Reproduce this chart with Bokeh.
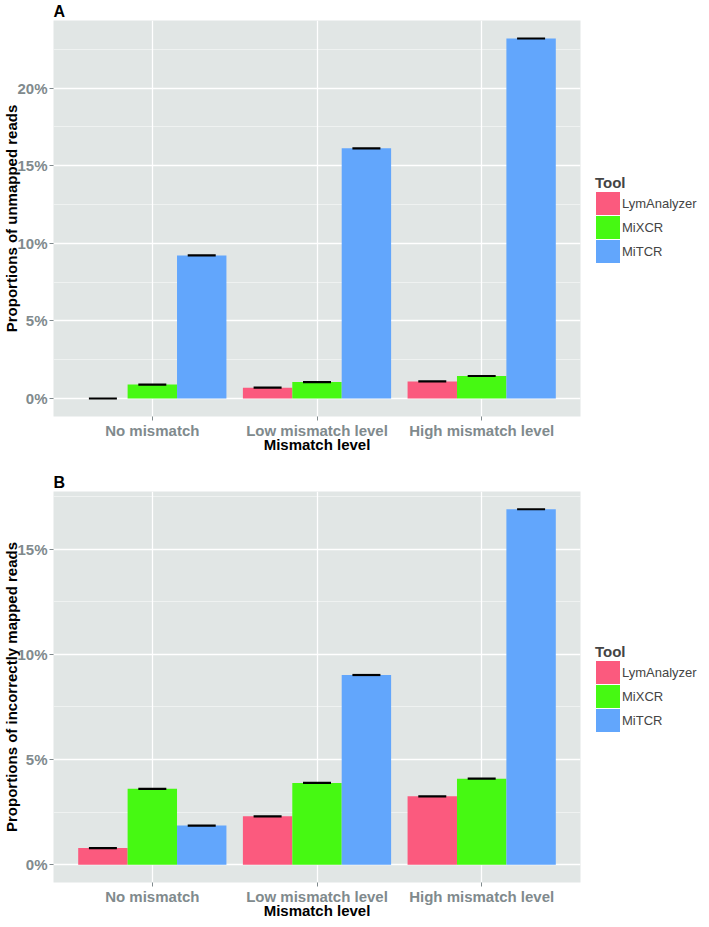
from bokeh.plotting import figure
from bokeh.models import (FixedTicker, Range1d, Legend, LegendItem, Title, ColumnDataSource)
from bokeh.layouts import column
from bokeh.embed import file_html
from bokeh.resources import INLINE

# ---- data ----
categories = ["No mismatch", "Low mismatch level", "High mismatch level"]
tools = ["LymAnalyzer", "MiXCR", "MiTCR"]

unmapped_lym = [0.0, 0.70, 1.10]
unmapped_mixcr = [0.90, 1.06, 1.45]
unmapped_mitcr = [9.22, 16.12, 23.20]

incorrect_lym = [0.79, 2.30, 3.25]
incorrect_mixcr = [3.61, 3.89, 4.09]
incorrect_mitcr = [1.86, 9.02, 16.90]

ticks_a = [0, 5, 10, 15, 20]
ticks_b = [0, 5, 10, 15]
tick_labels_a = ["0%", "5%", "10%", "15%", "20%"]
tick_labels_b = ["0%", "5%", "10%", "15%"]

colors = ["#FB5A7E", "#46F912", "#62A6FC"]

FONT = "Liberation Sans"
BG = "#E1E6E5"
TICK_GREY = "#808A8D"
FRAME_W = 527
LEGEND_H = 90


def make_panel(letter, ytitle, series, ticks, tick_labels, top_border, frame_h, bottom_border):
    allv = [v for s in series for v in s]
    vmax = max(allv)
    p = figure(frame_width=FRAME_W, frame_height=frame_h, output_backend="svg",
               toolbar_location=None, min_border_left=46, min_border_top=top_border,
               min_border_bottom=bottom_border, min_border_right=120,
               x_range=Range1d(0.4, len(categories) + 0.6),
               y_range=Range1d(-0.05 * vmax, 1.05 * vmax),
               background_fill_color=BG, border_fill_color="white")
    p.outline_line_color = None

    t = Title(text=letter, text_font=FONT, text_font_size="16px", text_font_style="bold",
              align="left", standoff=1, offset=0, text_color="black")
    p.add_layout(t, "above")

    n = len(categories)
    width = 0.3
    items = []
    for j, (vals, tool, col) in enumerate(zip(series, tools, colors)):
        xs = [i + 1 + (j - 1) * width for i in range(n)]
        src = ColumnDataSource(dict(x=xs, top=vals,
                                    x0=[x - 0.085 for x in xs], x1=[x + 0.085 for x in xs]))
        p.vbar(x="x", top="top", bottom=0, width=width, source=src,
               fill_color=col, line_color=None)
        p.segment(x0="x0", x1="x1", y0="top", y1="top", source=src,
                  line_color="black", line_width=2.2)
        # hidden twin of the bars, used only for a full-size legend swatch
        key = p.vbar(x="x", top="top", bottom=0, width=width, source=src,
                     fill_color=col, line_color=col, line_width=4,
                     line_join="miter", visible=False)
        items.append(LegendItem(label=tool, renderers=[key]))

    legend = Legend(items=items, title="Tool",
                    location=(15, (frame_h - LEGEND_H) // 2),
                    title_text_font=FONT, title_text_font_size="15px",
                    title_text_font_style="bold", title_standoff=0,
                    label_text_font=FONT, label_text_font_size="13px",
                    glyph_width=25, glyph_height=24, label_standoff=2, spacing=0,
                    padding=0, margin=0, border_line_color=None,
                    background_fill_alpha=0, click_policy="none")
    p.add_layout(legend, "right")

    # x axis
    xa = p.xaxis[0]
    xa.ticker = FixedTicker(ticks=list(range(1, n + 1)))
    xa.major_label_overrides = {i + 1: c for i, c in enumerate(categories)}
    xa.axis_label = "Mismatch level"
    # y axis
    ya = p.yaxis[0]
    ya.ticker = FixedTicker(ticks=ticks, minor_ticks=[t + 2.5 for t in ticks])
    ya.major_label_overrides = {t: l for t, l in zip(ticks, tick_labels)}
    ya.axis_label = ytitle

    for ax in (xa, ya):
        ax.axis_line_color = None
        ax.major_tick_line_color = TICK_GREY
        ax.major_tick_in = 0
        ax.major_tick_out = 4
        ax.minor_tick_line_color = None
        ax.major_label_text_font = FONT
        ax.major_label_text_font_size = "15px"
        ax.major_label_text_font_style = "bold"
        ax.major_label_text_color = TICK_GREY
        ax.major_label_standoff = 2
        ax.axis_label_text_font = FONT
        ax.axis_label_text_font_size = "15px"
        ax.axis_label_text_font_style = "bold"
        ax.axis_label_text_color = "black"
    xa.major_label_standoff = 1
    xa.axis_label_standoff = -6
    ya.axis_label_standoff = -6

    p.xgrid.ticker = FixedTicker(ticks=list(range(1, n + 1)))
    p.xgrid.grid_line_color = "white"
    p.xgrid.grid_line_width = 1.3
    p.ygrid.grid_line_color = "white"
    p.ygrid.grid_line_width = 1.3
    p.ygrid.minor_grid_line_color = "white"
    p.ygrid.minor_grid_line_width = 0.6
    p.ygrid.minor_grid_line_alpha = 0.8
    return p


pa = make_panel("A", "Proportions of unmapped reads",
                [unmapped_lym, unmapped_mixcr, unmapped_mitcr],
                ticks_a, tick_labels_a, 12, 396, 55)
pb = make_panel("B", "Proportions of incorrectly mapped reads",
                [incorrect_lym, incorrect_mixcr, incorrect_mitcr],
                ticks_b, tick_labels_b, 17, 391, 30)

layout = column(pa, pb, spacing=0)
open("out.html", "w").write(file_html(layout, INLINE))
